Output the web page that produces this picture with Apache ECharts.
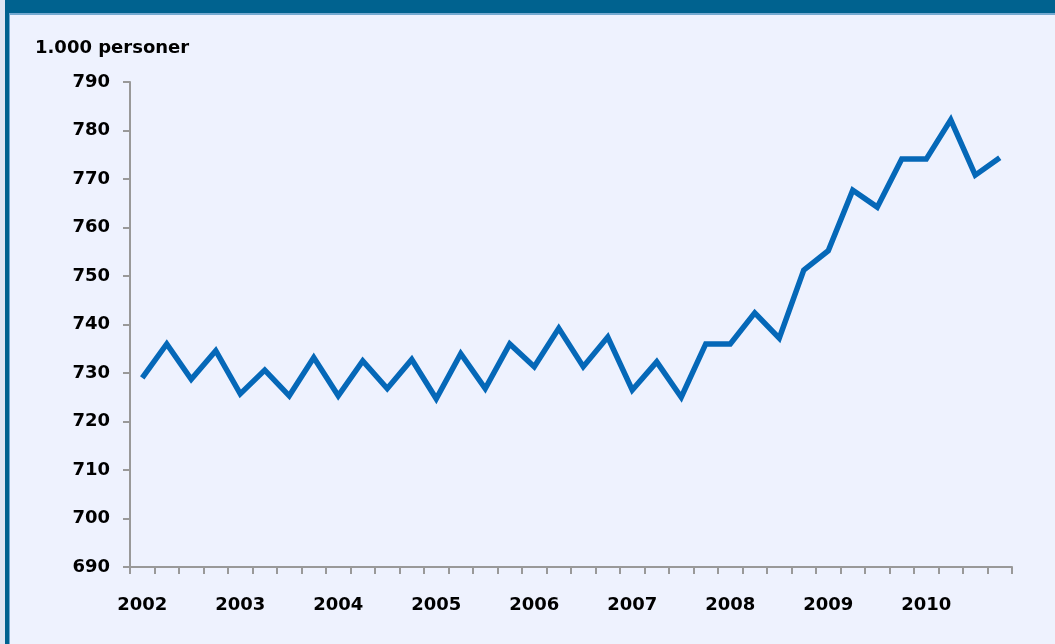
<!DOCTYPE html>
<html>
<head>
<meta charset="utf-8">
<script src="https://cdn.jsdelivr.net/npm/echarts@6/dist/echarts.min.js"></script>
<style>
  html, body { margin: 0; padding: 0; background: #eef2fe; }
  #chart { width: 1055px; height: 644px; }
</style>
</head>
<body>
<div id="chart"></div>
<script>
// kvartaler 2002K1 - 2010K4
const years = ['2002', '2003', '2004', '2005', '2006', '2007', '2008', '2009', '2010'];
const quarters = ['K1', 'K2', 'K3', 'K4'];
const persons = [
  729, 736, 728.7, 734.6, 725.7, 730.6, 725.3, 733.2, 725.3, 732.5, 726.8, 732.8,
  724.7, 734, 726.8, 736, 731.3, 739.2, 731.3, 737.4, 726.5, 732.3, 725, 736,
  736, 742.4, 737.2, 751.2, 755.2, 767.7, 764.2, 774.1, 774.1, 782.2, 770.8, 774.4
];
const yTicks = [690, 790, 10]; // min, max, interval

let categories = [];
years.forEach(y => quarters.forEach(q => categories.push(y + q)));

let chartDom = document.getElementById('chart');
let myChart = echarts.init(chartDom);
let option;

const labelFont = {
  color: '#000',
  fontFamily: 'DejaVu Sans',
  fontWeight: 'bold',
  fontSize: 18
};

option = {
  backgroundColor: '#eef2fe',
  animation: false,
  graphic: [
    // mørkeblå overskriftsbjælke (teksten er skåret af)
    { type: 'rect', shape: { x: 0, y: 0, width: 1055, height: 14 }, style: { fill: '#00628f' } },
    { type: 'rect', shape: { x: 0, y: 13, width: 1055, height: 2 }, style: { fill: '#74a9d0' } },
    { type: 'rect', shape: { x: 0, y: 0, width: 5, height: 644 }, style: { fill: '#dfe6f3' } },
    { type: 'rect', shape: { x: 5, y: 0, width: 4, height: 644 }, style: { fill: '#00628f' } },
    { type: 'rect', shape: { x: 9, y: 15, width: 1, height: 629 }, style: { fill: '#74a9d0' } },
    {
      type: 'text', left: 35, top: 39,
      style: { text: '1.000 personer', fill: '#000', font: 'bold 18px "DejaVu Sans"' }
    }
  ],
  grid: { left: 130, right: 43, top: 82, bottom: 77 },
  xAxis: {
    type: 'category',
    data: categories,
    boundaryGap: true,
    axisLine: { lineStyle: { color: '#999', width: 2 } },
    axisTick: { show: true, interval: 0, length: 7, lineStyle: { color: '#999', width: 2 } },
    axisLabel: Object.assign({
      interval: 3,
      margin: 29,
      formatter: v => v.slice(0, 4)
    }, labelFont),
    splitLine: { show: false }
  },
  yAxis: {
    type: 'value',
    min: yTicks[0],
    max: yTicks[1],
    interval: yTicks[2],
    axisLine: { show: true, lineStyle: { color: '#999', width: 2 } },
    axisTick: { show: true, length: 7, lineStyle: { color: '#999', width: 2 } },
    axisLabel: Object.assign({ margin: 20 }, labelFont),
    splitLine: { show: false }
  },
  series: [
    {
      type: 'line',
      data: persons,
      symbol: 'none',
      lineStyle: { color: '#0568b8', width: 5.5, join: 'miter' }
    }
  ]
};

option && myChart.setOption(option);
</script>
</body>
</html>
